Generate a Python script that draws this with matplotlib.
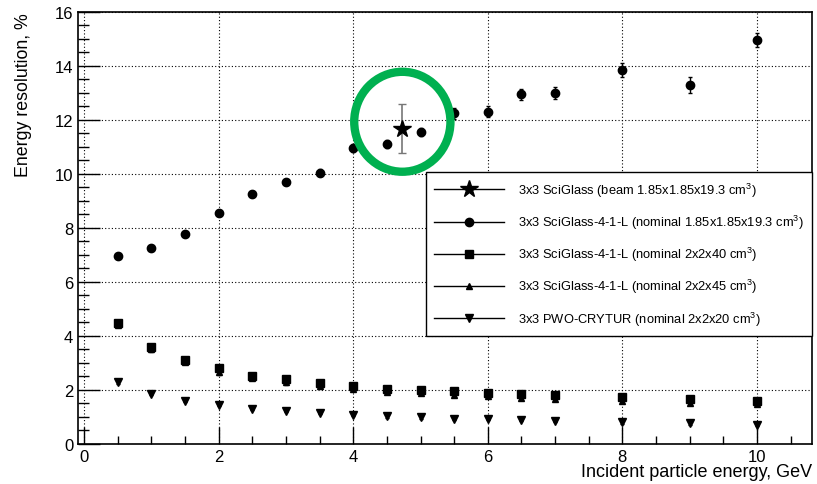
import matplotlib
matplotlib.use('Agg')
import matplotlib.pyplot as plt
from matplotlib.lines import Line2D
from matplotlib.patches import Ellipse
from matplotlib.ticker import MultipleLocator

plt.rcParams['font.family'] = ['Liberation Sans', 'DejaVu Sans']
plt.rcParams['mathtext.fontset'] = 'custom'
plt.rcParams['mathtext.rm'] = 'Liberation Sans'

energy = [0.5, 1.0, 1.5, 2.0, 2.5, 3.0, 3.5, 4.0, 4.5, 5.0, 5.5, 6.0, 6.5, 7.0, 8.0, 9.0, 10.0]

# 3x3 SciGlass-4-1-L nominal 1.85x1.85x19.3
res_sg19 = [6.95, 7.25, 7.78, 8.55, 9.25, 9.7, 10.05, 10.95, 11.1, 11.55, 12.25, 12.3, 12.95, 13.0, 13.85, 13.3, 14.95]
err_sg19 = [0.08, 0.08, 0.08, 0.1, 0.1, 0.1, 0.12, 0.15, 0.15, 0.15, 0.2, 0.2, 0.2, 0.22, 0.25, 0.3, 0.25]

# 3x3 SciGlass-4-1-L nominal 2x2x40
res_sg40 = [4.47, 3.6, 3.1, 2.8, 2.5, 2.4, 2.25, 2.14, 2.03, 2.0, 1.96, 1.88, 1.84, 1.8, 1.75, 1.68, 1.6]
err_sg40 = [0.1, 0.12, 0.1, 0.12, 0.1, 0.12, 0.1, 0.1, 0.1, 0.1, 0.1, 0.1, 0.1, 0.1, 0.1, 0.1, 0.1]

# 3x3 SciGlass-4-1-L nominal 2x2x45
res_sg45 = [4.4, 3.5, 3.05, 2.65, 2.45, 2.28, 2.15, 2.05, 1.93, 1.88, 1.83, 1.77, 1.72, 1.68, 1.6, 1.52, 1.47]
err_sg45 = [0.08, 0.08, 0.08, 0.1, 0.08, 0.08, 0.08, 0.08, 0.08, 0.08, 0.08, 0.08, 0.08, 0.08, 0.08, 0.08, 0.08]

# 3x3 PWO-CRYTUR nominal 2x2x20
res_pwo = [2.28, 1.85, 1.59, 1.44, 1.3, 1.22, 1.15, 1.08, 1.02, 0.99, 0.93, 0.92, 0.89, 0.86, 0.8, 0.77, 0.72]
err_pwo = [0.05] * 17

# beam measurement
beam_e = [4.72]
beam_res = [11.67]
beam_err = [0.9]

labels = [
    '3x3 SciGlass (beam 1.85x1.85x19.3 cm$^{3}$)',
    '3x3 SciGlass-4-1-L (nominal 1.85x1.85x19.3 cm$^{3}$)',
    '3x3 SciGlass-4-1-L (nominal 2x2x40 cm$^{3}$)',
    '3x3 SciGlass-4-1-L (nominal 2x2x45 cm$^{3}$)',
    '3x3 PWO-CRYTUR (nominal 2x2x20 cm$^{3}$)',
]

fig = plt.figure(figsize=(8.17, 4.85), dpi=100)
ax = fig.add_axes([0.0955, 0.0825, 0.8985, 0.891])

ax.errorbar(energy, res_sg40, yerr=err_sg40, fmt='s', color='black', ms=6, elinewidth=1, capsize=1.5, zorder=3)
ax.errorbar(energy, res_sg45, yerr=err_sg45, fmt='^', color='black', ms=5, elinewidth=1, capsize=1.5, zorder=3)
ax.errorbar(energy, res_pwo, yerr=err_pwo, fmt='v', color='black', ms=6, elinewidth=1, capsize=1.5, zorder=3)
ax.errorbar(energy, res_sg19, yerr=err_sg19, fmt='o', color='black', ms=6, elinewidth=1, capsize=1.5, zorder=3)
ax.errorbar(beam_e, beam_res, yerr=beam_err, fmt='*', color='black', ecolor='#777777', ms=13, elinewidth=1.2, capsize=3, zorder=4)

ax.add_patch(Ellipse((4.73, 11.93), 1.43, 3.7, fill=False, edgecolor='#00b050', lw=6, zorder=5))

ax.set_xlim(-0.09, 10.82)
ax.set_ylim(0, 16)
ax.xaxis.set_major_locator(MultipleLocator(2))
ax.xaxis.set_minor_locator(MultipleLocator(0.5))
ax.yaxis.set_major_locator(MultipleLocator(2))
ax.yaxis.set_minor_locator(MultipleLocator(0.5))
ax.tick_params(which='both', direction='in', top=False, right=False, labelsize=12, width=1)
ax.tick_params(which='major', axis='y', length=16)
ax.tick_params(which='minor', axis='y', length=8)
ax.tick_params(which='major', axis='x', length=12)
ax.tick_params(which='minor', axis='x', length=6)
ax.grid(True, which='major', linestyle=(0, (1, 2)), color='black', linewidth=0.8)
for s in ax.spines.values():
    s.set_linewidth(1.2)

ax.set_xlabel('Incident particle energy, GeV', fontsize=13, loc='right')
ax.set_ylabel('Energy resolution, %', fontsize=12.8, loc='top')
ax.xaxis.set_label_coords(1.0, -0.045)
ax.yaxis.set_label_coords(-0.063, 1.0)

handles = [
    Line2D([], [], color='black', marker='*', ms=13, lw=1),
    Line2D([], [], color='black', marker='o', ms=6, lw=1),
    Line2D([], [], color='black', marker='s', ms=6, lw=1),
    Line2D([], [], color='black', marker='^', ms=5, lw=1),
    Line2D([], [], color='black', marker='v', ms=6, lw=1),
]
leg = ax.legend(handles, labels, loc='lower right', bbox_to_anchor=(1.0, 0.25, 0.0, 0.0),
                fontsize=9.3, frameon=True, fancybox=False, edgecolor='black', framealpha=1,
                handlelength=5.4, labelspacing=1.08, borderpad=0.65, handletextpad=1.1, borderaxespad=0)
leg.get_frame().set_linewidth(1)
leg.set_zorder(6)

fig.savefig('out.png', dpi=100)
